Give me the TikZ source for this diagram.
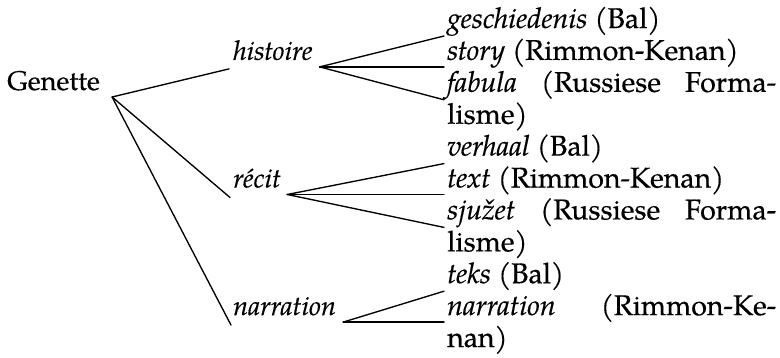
\documentclass[tikz,border=0pt]{standalone}
\usepackage{fontspec}
\setmainfont{TeX Gyre Pagella}[UprightFeatures={FakeBold=0.4},ItalicFeatures={FakeBold=0.4}]
\newcommand{\twoline}[2]{\parbox[t]{329pt}{\makebox[329pt][s]{#1}\\#2}}
\begin{document}
\begin{tikzpicture}[x=1pt,y=-1pt,
  lbl/.style={inner sep=0pt, anchor=base west, font=\fontsize{27}{31.9}\selectfont},
  rlbl/.style={lbl, font=\fontsize{28.5}{31.9}\selectfont},
  conn/.style={line width=1.35pt, line cap=round}]
\useasboundingbox (0,0) rectangle (780,358);
% left column
\node[lbl] (gen) at (7,90) {Genette};
\node[lbl] (his) at (233,59.9) {\textit{histoire}};
\node[lbl] (rec) at (233,187.5) {\textit{récit}};
\node[lbl] (nar) at (233,315.1) {\textit{narration}};
% right column
\node[rlbl] (ges) at (447,28) {\textit{geschiedenis} (Bal)};
\node[rlbl] (sto) at (447,59.9) {\textit{story} (Rimmon-Kenan)};
\node[rlbl] (fab) at (447,91.8) {\twoline{\textit{fabula} (Russiese Forma-}{lisme)}};
\node[rlbl] (ver) at (447,155.6) {\textit{verhaal} (Bal)};
\node[rlbl] (tex) at (447,187.5) {\textit{text} (Rimmon-Kenan)};
\node[rlbl] (sju) at (447,219.4) {\twoline{\textit{sjužet} (Russiese Forma-}{lisme)}};
\node[rlbl] (tek) at (447,283.2) {\textit{teks} (Bal)};
\node[rlbl] (nrk) at (447,315.1) {\twoline{\textit{narration} (Rimmon-Ke-}{nan)}};
% junction points
\coordinate (gv) at ([xshift=12pt,yshift=-7pt]gen.base east);
\coordinate (hv) at ([xshift=7pt,yshift=-7pt]his.base east);
\coordinate (rv) at ([xshift=6pt,yshift=-7pt]rec.base east);
\coordinate (nv) at ([xshift=7pt,yshift=-7pt]nar.base east);
% Genette branches
\draw[conn] (gv) -- ([xshift=-4pt,yshift=-9pt]his.base west);
\draw[conn] (gv) -- ([xshift=-3pt,yshift=-10pt]rec.base west);
\draw[conn] (gv) -- ([xshift=-2pt,yshift=-10pt]nar.base west);
% histoire branches
\draw[conn] (hv) -- ([xshift=-3pt,yshift=-8pt]ges.base west);
\draw[conn] (hv) -- ([xshift=-3pt,yshift=-7pt]sto.base west);
\draw[conn] (hv) -- ([xshift=-3pt,yshift=-8pt]fab.base west);
% recit branches
\draw[conn] (rv) -- ([xshift=-3pt,yshift=-8pt]ver.base west);
\draw[conn] (rv) -- ([xshift=-3pt,yshift=-7pt]tex.base west);
\draw[conn] (rv) -- ([xshift=-3pt,yshift=-8pt]sju.base west);
% narration branches
\draw[conn] (nv) -- ([xshift=-3pt,yshift=-8pt]tek.base west);
\draw[conn] (nv) -- ([xshift=-3pt,yshift=-7pt]nrk.base west);
\end{tikzpicture}
\end{document}
